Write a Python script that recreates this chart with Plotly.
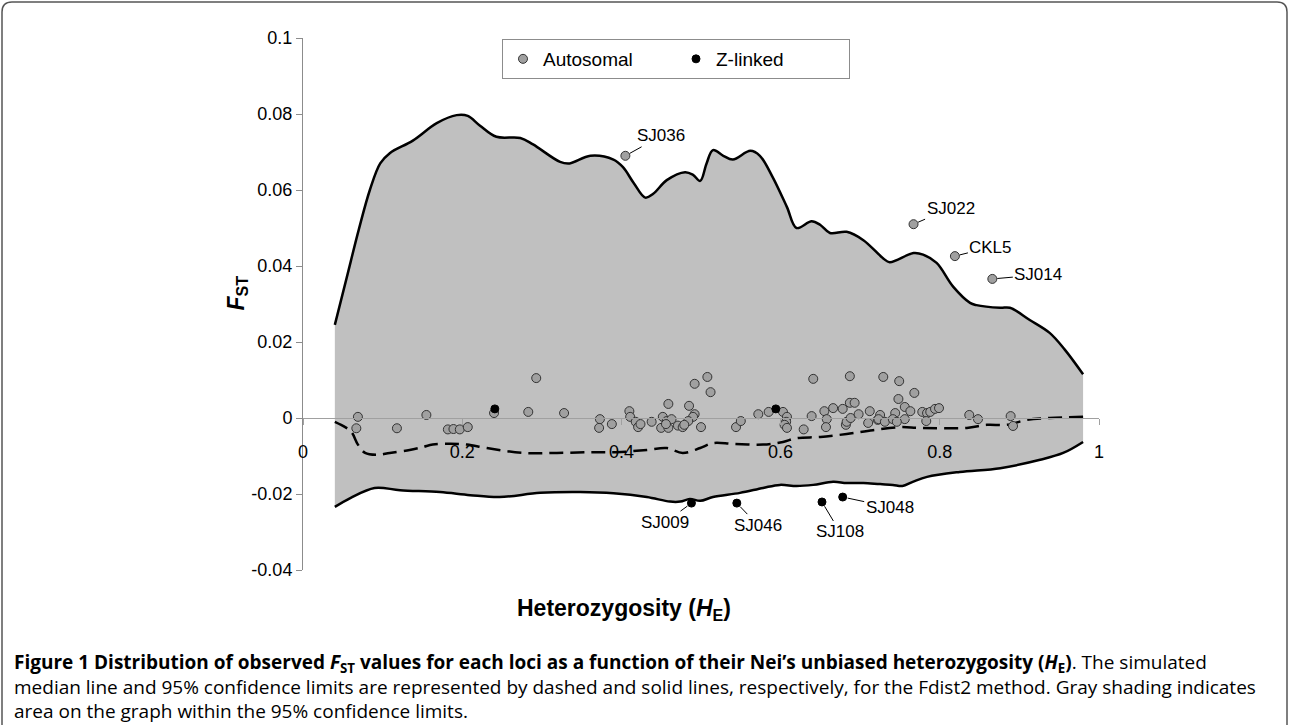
import plotly.graph_objects as go

# ---------------- data ----------------
auto_he = [0.069, 0.067, 0.118, 0.155, 0.182, 0.189, 0.197, 0.207, 0.240,
           0.283, 0.328, 0.293, 0.373, 0.372, 0.388, 0.410, 0.411, 0.418, 0.421, 0.424,
           0.438, 0.459, 0.452, 0.457, 0.463, 0.450, 0.459, 0.456, 0.471, 0.477, 0.485,
           0.492, 0.490, 0.484, 0.479, 0.500, 0.544, 0.550, 0.572, 0.585, 0.603, 0.608,
           0.607, 0.605, 0.608, 0.629, 0.639, 0.655, 0.658, 0.657, 0.666, 0.678, 0.687,
           0.693, 0.682, 0.683, 0.688, 0.698, 0.710, 0.712, 0.722, 0.508, 0.492, 0.512,
           0.641, 0.687, 0.729, 0.749, 0.768, 0.748, 0.756, 0.763, 0.725, 0.723, 0.731,
           0.744, 0.741, 0.756, 0.746, 0.778, 0.784, 0.788, 0.794, 0.799, 0.783, 0.837,
           0.848, 0.889, 0.892, 0.405, 0.767, 0.819, 0.866]
auto_fst = [0.0003, -0.0027, -0.0027, 0.0008, -0.0030, -0.0029, -0.0030, -0.0024, 0.0013,
            0.0016, 0.0013, 0.0105, -0.0003, -0.0026, -0.0016, 0.0018, 0.0003, -0.0010, -0.0024, -0.0016,
            -0.0010, 0.0037, 0.0003, -0.0008, -0.0003, -0.0026, -0.0026, -0.0016, -0.0020, -0.0024, 0.0032,
            0.0010, 0.0003, -0.0008, -0.0018, -0.0024, -0.0024, -0.0008, 0.0010, 0.0016, 0.0016, 0.0003,
            -0.0010, -0.0018, -0.0026, -0.0030, 0.0005, 0.0018, -0.0003, -0.0024, 0.0026, 0.0024, 0.0040,
            0.0040, -0.0018, -0.0010, 0.0000, 0.0010, -0.0013, 0.0018, -0.0005, 0.0108, 0.0090, 0.0068,
            0.0103, 0.0110, 0.0108, 0.0097, 0.0066, 0.0050, 0.0029, 0.0018, 0.0008, -0.0003, -0.0010,
            0.0013, -0.0003, -0.0003, -0.0010, 0.0016, 0.0013, 0.0016, 0.0024, 0.0026, -0.0008, 0.0008,
            -0.0003, 0.0005, -0.0021, 0.0690, 0.0510, 0.0426, 0.0366]

z_he = [0.241, 0.594, 0.488, 0.545, 0.652, 0.678]
z_fst = [0.0024, 0.0024, -0.0224, -0.0224, -0.0221, -0.0208]

# outlier labels
out_he = [0.405, 0.767, 0.819, 0.866, 0.488, 0.545, 0.652, 0.678]
out_fst = [0.0690, 0.0510, 0.0426, 0.0366, -0.0224, -0.0224, -0.0221, -0.0208]
out_lab = ["SJ036", "SJ022", "CKL5", "SJ014", "SJ009", "SJ046", "SJ108", "SJ048"]
out_dx = [36, 37, 36, 46, -26, 21, 18, 47]
out_dy = [-20, -16, -9, -4, 19, 22, 30, 10]

upper_he = [0.040, 0.055, 0.070, 0.084, 0.097, 0.109, 0.138, 0.168, 0.193, 0.207, 0.222,
            0.243, 0.273, 0.289, 0.323, 0.335, 0.361, 0.390, 0.402, 0.415, 0.430, 0.440,
            0.457, 0.480, 0.490, 0.499, 0.507, 0.515, 0.528, 0.540, 0.562, 0.574, 0.590,
            0.608, 0.620, 0.639, 0.650, 0.662, 0.683, 0.704, 0.729, 0.737, 0.767, 0.779,
            0.796, 0.817, 0.838, 0.846, 0.876, 0.888, 0.913, 0.938, 0.957, 0.980]
upper_fst = [0.0245, 0.0370, 0.0495, 0.0600, 0.0670, 0.0697, 0.0730, 0.0776, 0.0797, 0.0795, 0.0770,
             0.0740, 0.0737, 0.0720, 0.0674, 0.0670, 0.0690, 0.0680, 0.0660, 0.0620, 0.0580, 0.0590,
             0.0626, 0.0647, 0.0640, 0.0624, 0.0670, 0.0705, 0.0690, 0.0680, 0.0703, 0.0690, 0.0634,
             0.0555, 0.0500, 0.0518, 0.0508, 0.0487, 0.0490, 0.0468, 0.0420, 0.0410, 0.0434, 0.0430,
             0.0408, 0.0345, 0.0303, 0.0297, 0.0290, 0.0290, 0.0258, 0.0224, 0.0180, 0.0115]

lower_he = [0.040, 0.060, 0.090, 0.122, 0.172, 0.210, 0.247, 0.298, 0.348, 0.390, 0.432,
            0.461, 0.474, 0.486, 0.499, 0.515, 0.549, 0.578, 0.599, 0.620, 0.641, 0.666,
            0.683, 0.704, 0.725, 0.741, 0.753, 0.766, 0.784, 0.825, 0.876, 0.926, 0.955, 0.980]
lower_fst = [-0.0234, -0.0210, -0.0184, -0.0190, -0.0195, -0.0203, -0.0208, -0.0197, -0.0195, -0.0198, -0.0208,
             -0.0220, -0.0220, -0.0213, -0.0218, -0.0208, -0.0197, -0.0184, -0.0176, -0.0179, -0.0176, -0.0168,
             -0.0171, -0.0171, -0.0174, -0.0176, -0.0179, -0.0168, -0.0155, -0.0142, -0.0132, -0.0110, -0.0092, -0.0063]

median_he = [0.040, 0.053, 0.061, 0.069, 0.078, 0.093, 0.109, 0.134, 0.151, 0.163, 0.185, 0.206,
             0.231, 0.276, 0.319, 0.361, 0.394, 0.432, 0.457, 0.477, 0.499, 0.515, 0.540, 0.578,
             0.603, 0.620, 0.650, 0.683, 0.716, 0.750, 0.775, 0.834, 0.859, 0.884, 0.909, 0.938, 0.980]
median_fst = [-0.0010, -0.0024, -0.0037, -0.0070, -0.0092, -0.0097, -0.0092, -0.0084, -0.0076, -0.0070, -0.0068, -0.0070,
              -0.0079, -0.0092, -0.0092, -0.0090, -0.0090, -0.0084, -0.0079, -0.0092, -0.0079, -0.0066, -0.0068, -0.0070,
              -0.0063, -0.0053, -0.0050, -0.0042, -0.0032, -0.0024, -0.0026, -0.0026, -0.0018, -0.0018, -0.0005, 0.0000, 0.0003]

x_ticks = [0, 0.2, 0.4, 0.6, 0.8, 1.0]
x_ticktext = ["0", "0.2", "0.4", "0.6", "0.8", "1"]
y_ticks = [-0.04, -0.02, 0, 0.02, 0.04, 0.06, 0.08, 0.1]
y_ticktext = ["-0.04", "-0.02", "0", "0.02", "0.04", "0.06", "0.08", "0.1"]

caption_lines = [
    "<b>Figure 1 Distribution of observed <i>F</i><sub>ST</sub> values for each loci as a function of their Nei\u2019s unbiased heterozygosity (<i>H</i><sub>E</sub>)</b>. The simulated",
    "median line and 95% confidence limits are represented by dashed and solid lines, respectively, for the Fdist2 method. Gray shading indicates",
    "area on the graph within the 95% confidence limits.",
]

# ---------------- layout geometry ----------------
W, H = 1290, 725
L, R, T, B = 303, 1099, 38, 570
YMIN, YMAX = -0.04, 0.1


def px2x(px):
    return (px - L) / (R - L)


def py2y(py):
    return (B - py) / (B - T)


FONT = "Liberation Sans, Arial, sans-serif"

fig = go.Figure()

# fill band (invisible base + fill)
fig.add_trace(go.Scatter(x=lower_he, y=lower_fst, mode="lines", line=dict(width=0, shape="spline"),
                         hoverinfo="skip", showlegend=False))
fig.add_trace(go.Scatter(x=upper_he, y=upper_fst, mode="lines", line=dict(width=0, shape="spline"),
                         fill="tonexty", fillcolor="#c0c0c0", hoverinfo="skip", showlegend=False))
# limit lines
fig.add_trace(go.Scatter(x=lower_he, y=lower_fst, mode="lines",
                         line=dict(color="black", width=2.5, shape="spline"), showlegend=False))
fig.add_trace(go.Scatter(x=upper_he, y=upper_fst, mode="lines",
                         line=dict(color="black", width=2.5, shape="spline"), showlegend=False))
fig.add_trace(go.Scatter(x=median_he, y=median_fst, mode="lines",
                         line=dict(color="black", width=2.5, dash="14px,7px", shape="spline"), showlegend=False))
# points
fig.add_trace(go.Scatter(x=auto_he, y=auto_fst, mode="markers", name="Autosomal",
                         marker=dict(size=9, color="#a0a0a0", line=dict(color="#333333", width=1))))
fig.add_trace(go.Scatter(x=z_he, y=z_fst, mode="markers", name="Z-linked",
                         marker=dict(size=8, color="black", line=dict(color="black", width=1))))

annotations = []
for hx, fy, lab, dx, dy in zip(out_he, out_fst, out_lab, out_dx, out_dy):
    annotations.append(dict(x=hx, y=fy, xref="x", yref="y", text=lab, showarrow=True,
                            arrowhead=0, arrowwidth=1, arrowcolor="black", ax=dx, ay=dy,
                            standoff=5, font=dict(family=FONT, size=17, color="black")))

# axis titles
annotations.append(dict(x=px2x(624), y=py2y(626), xref="paper", yref="paper", showarrow=False,
                        text="<b>Heterozygosity (<i>H</i><sub>E</sub>)</b>",
                        font=dict(family=FONT, size=23, color="black")))
annotations.append(dict(x=px2x(220), y=py2y(293), xref="paper", yref="paper", showarrow=False,
                        text="<b><i>F</i><sub>ST</sub></b>", textangle=-90,
                        font=dict(family=FONT, size=23, color="black")))
# caption (one block, three lines)
annotations.append(dict(x=px2x(12), y=py2y(686.5), xref="paper", yref="paper",
                        xanchor="left", yanchor="middle", showarrow=False,
                        text="<br>".join(caption_lines), align="left",
                        font=dict(family="Open Sans, sans-serif", size=19, color="black")))

# outer rounded frame
x0, x1 = px2x(2), px2x(1287)
y0, y1 = py2y(2), py2y(740)
rx, ry = 10 / (R - L), 10 / (B - T)
frame_path = (f"M {x0},{y1} L {x0},{y0 - ry} Q {x0},{y0} {x0 + rx},{y0} "
              f"L {x1 - rx},{y0} Q {x1},{y0} {x1},{y0 - ry} L {x1},{y1}")

fig.update_layout(
    width=W, height=H,
    margin=dict(l=L, r=W - R, t=T, b=H - B, pad=0),
    paper_bgcolor="white", plot_bgcolor="white",
    font=dict(family=FONT, size=18, color="black"),
    showlegend=True,
    legend=dict(orientation="h", x=px2x(502), y=py2y(39), xanchor="left", yanchor="top",
                traceorder="normal",
                bordercolor="#8c8c8c", borderwidth=1, bgcolor="white",
                font=dict(family=FONT, size=19, color="black"), entrywidth=128, itemsizing="trace"),
    xaxis=dict(range=[0, 1.0], tickvals=x_ticks, ticktext=x_ticktext, showgrid=False, zeroline=False,
               showline=True, linecolor="#a0a0a0", linewidth=1, ticks="outside", ticklen=6,
               tickcolor="#a0a0a0", anchor="free", position=(0 - YMIN) / (YMAX - YMIN),
               ticklabelstandoff=11, tickfont=dict(size=18)),
    yaxis=dict(range=[YMIN, YMAX], tickvals=y_ticks, ticktext=y_ticktext, showgrid=False, zeroline=False,
               showline=True, linecolor="#8c8c8c", linewidth=1, ticks="outside", ticklen=6,
               tickcolor="#8c8c8c", tickfont=dict(size=18)),
    annotations=annotations,
    shapes=[dict(type="path", xref="paper", yref="paper", path=frame_path,
                 line=dict(color="#555555", width=1.5))],
)

fig.write_html("out.html", config={"displayModeBar": False},
               post_script="document.body.style.margin='0';document.body.style.overflow='hidden';")
